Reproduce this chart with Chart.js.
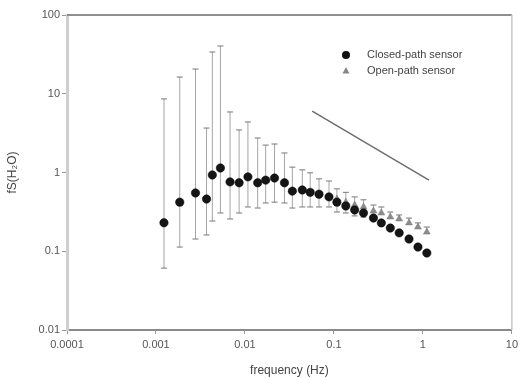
<!DOCTYPE html>
<html>
<head>
<meta charset="utf-8">
<script src="https://cdn.jsdelivr.net/npm/chart.js@4/dist/chart.umd.min.js"></script>
<style>
  html, body { margin: 0; padding: 0; background: #fff; }
  #wrap { width: 522px; height: 378px; }
</style>
</head>
<body>
<div id="wrap"><canvas id="c" width="522" height="378"></canvas></div>
<script>
// frequency bins (Hz)
const freq = [0.00123, 0.00185, 0.00278, 0.0037, 0.0043, 0.0053, 0.0068, 0.0086, 0.0108, 0.0139,
              0.0171, 0.0215, 0.0278, 0.0341, 0.0441, 0.0541, 0.068, 0.088, 0.108, 0.136,
              0.171, 0.215, 0.278, 0.341, 0.43, 0.541, 0.698, 0.88, 1.107];

// closed-path sensor: mean and whisker ends
const closedVals = [0.23, 0.42, 0.55, 0.46, 0.93, 1.14, 0.76, 0.74, 0.88, 0.74,
                    0.80, 0.85, 0.74, 0.58, 0.60, 0.56, 0.53, 0.49, 0.42, 0.376,
                    0.334, 0.306, 0.264, 0.229, 0.197, 0.171, 0.143, 0.113, 0.095];
const closedHi = [8.6, 16.3, 20.6, 3.67, 33.9, 40.4, 5.87, 3.47, 4.38, 2.74,
                  2.23, 2.30, 1.77, 1.17, 1.08, 0.99, 0.83, 0.78, 0.62, 0.56,
                  0.49, 0.45, null, null, null, null, null, null, null];
const closedLo = [0.061, 0.113, 0.143, 0.161, 0.242, 0.306, 0.257, 0.306, 0.365, 0.354,
                  0.41, 0.42, 0.41, 0.354, 0.365, 0.365, 0.365, 0.365, 0.315, 0.306,
                  0.281, 0.272, null, null, null, null, null, null, null];

// open-path sensor (hidden under the circles at low frequency)
const openVals = [0.23, 0.42, 0.55, 0.46, 0.93, 1.14, 0.76, 0.74, 0.88, 0.74,
                  0.80, 0.85, 0.74, 0.58, 0.60, 0.56, 0.53, 0.49, 0.46, 0.42,
                  0.386, 0.365, 0.324, 0.306, 0.272, 0.257, 0.229, 0.203, 0.175];
const openHi = [null, null, null, null, null, null, null, null, null, null,
                null, null, null, null, null, null, null, null, null, null,
                null, null, 0.386, 0.365, 0.315, 0.289, 0.264, 0.229, 0.203];

// -2/3 reference slope
const slopeX = [0.057, 1.17];
const slopeY = [6.0, 0.80];

const xTicks = [0.0001, 0.001, 0.01, 0.1, 1, 10];
const xTickLabels = ['0.0001', '0.001', '0.01', '0.1', '1', '10'];
const yTicks = [0.01, 0.1, 1, 10, 100];
const yTickLabels = ['0.01', '0.1', '1', '10', '100'];

const FONT = "'Liberation Sans', Arial, sans-serif";

const pts = (xs, ys) => xs.map((x, i) => ({ x: x, y: ys[i] }));

// whiskers drawn under the markers
const errorBars = {
    id: 'errorBars',
    beforeDatasetsDraw(chart) {
        const ctx = chart.ctx;
        const xs = chart.scales.x, ys = chart.scales.y;
        const sets = [
            { vals: openVals, hi: openHi, lo: [] },
            { vals: closedVals, hi: closedHi, lo: closedLo }
        ];
        ctx.save();
        ctx.lineWidth = 1;
        sets.forEach(s => {
            freq.forEach((f, i) => {
                const px = xs.getPixelForValue(f);
                const py = ys.getPixelForValue(s.vals[i]);
                [s.hi[i], s.lo[i]].forEach(v => {
                    if (v == null) return;
                    const ey = ys.getPixelForValue(v);
                    ctx.strokeStyle = '#a5a5a5';
                    ctx.beginPath();
                    ctx.moveTo(px, py);
                    ctx.lineTo(px, ey);
                    ctx.stroke();
                    ctx.strokeStyle = '#777';
                    ctx.beginPath();
                    ctx.moveTo(px - 3, ey);
                    ctx.lineTo(px + 3, ey);
                    ctx.stroke();
                });
            });
        });
        ctx.restore();
    }
};

// frame + legend inside plot
const frameLegend = {
    id: 'frameLegend',
    afterDraw(chart) {
        const ctx = chart.ctx;
        const a = chart.chartArea;
        ctx.save();
        ctx.strokeStyle = '#8f8f8f';
        ctx.lineWidth = 2;
        ctx.beginPath();
        ctx.moveTo(a.left, a.top);
        ctx.lineTo(a.right, a.top);
        ctx.stroke();
        ctx.strokeStyle = '#c8c8c8';
        ctx.lineWidth = 1.5;
        ctx.beginPath();
        ctx.moveTo(a.right, a.top);
        ctx.lineTo(a.right, a.bottom);
        ctx.stroke();

        const lx = a.left + 279, ly = a.top + 40;
        ctx.fillStyle = '#111';
        ctx.beginPath();
        ctx.arc(lx, ly, 4, 0, Math.PI * 2);
        ctx.fill();
        ctx.fillStyle = '#888';
        ctx.beginPath();
        ctx.moveTo(lx, ly + 12);
        ctx.lineTo(lx + 3.5, ly + 18.5);
        ctx.lineTo(lx - 3.5, ly + 18.5);
        ctx.closePath();
        ctx.fill();
        ctx.fillStyle = '#444';
        ctx.font = '11px ' + FONT;
        ctx.textBaseline = 'middle';
        ctx.fillText(chart.data.datasets[0].label, lx + 21, ly);
        ctx.fillText(chart.data.datasets[1].label, lx + 21, ly + 16);
        ctx.restore();
    }
};

new Chart(document.getElementById('c'), {
    type: 'scatter',
    data: {
        datasets: [
            {
                label: 'Closed-path sensor',
                data: pts(freq, closedVals),
                pointStyle: 'circle',
                pointRadius: 4.2,
                backgroundColor: '#151515',
                borderColor: '#000',
                borderWidth: 0.5
            },
            {
                label: 'Open-path sensor',
                data: pts(freq, openVals),
                pointStyle: 'triangle',
                pointRadius: 4,
                backgroundColor: '#8c8c8c',
                borderColor: '#7a7a7a',
                borderWidth: 0.5
            },
            {
                label: 'slope',
                type: 'line',
                data: pts(slopeX, slopeY),
                borderColor: '#6e6e6e',
                borderWidth: 1.5,
                pointRadius: 0,
                fill: false
            }
        ]
    },
    options: {
        responsive: false,
        animation: false,
        devicePixelRatio: 1,
        layout: { padding: { top: 15, right: 5, left: 0, bottom: 0 } },
        plugins: { legend: { display: false }, tooltip: { enabled: false } },
        scales: {
            x: {
                type: 'logarithmic',
                min: 0.0001,
                max: 10,
                afterBuildTicks: s => { s.ticks = xTicks.map(v => ({ value: v })); },
                afterFit: s => { s.height = 48; },
                ticks: {
                    callback: (v, i) => xTickLabels[i],
                    color: '#555',
                    font: { size: 11, family: FONT },
                    padding: 4,
                    maxRotation: 0,
                    autoSkip: false
                },
                grid: { drawOnChartArea: false, tickLength: 4, color: '#999' },
                border: { color: '#8a8a8a', width: 2 },
                title: {
                    display: true,
                    text: 'frequency (Hz)',
                    color: '#444',
                    font: { size: 12, family: FONT },
                    padding: { top: 3, bottom: 0 }
                }
            },
            y: {
                type: 'logarithmic',
                min: 0.01,
                max: 100,
                afterBuildTicks: s => { s.ticks = yTicks.map(v => ({ value: v })); },
                afterFit: s => { s.width = 67; },
                ticks: {
                    callback: (v, i) => yTickLabels[i],
                    color: '#555',
                    font: { size: 11, family: FONT },
                    padding: 2,
                    autoSkip: false
                },
                grid: { drawOnChartArea: false, tickLength: 5, color: '#999' },
                border: { color: '#cfcfcf', width: 3 },
                title: {
                    display: true,
                    text: 'fS(H₂O)',
                    color: '#444',
                    font: { size: 12, family: FONT },
                    padding: { top: 5, bottom: 8 }
                }
            }
        }
    },
    plugins: [errorBars, frameLegend]
});
</script>
</body>
</html>
